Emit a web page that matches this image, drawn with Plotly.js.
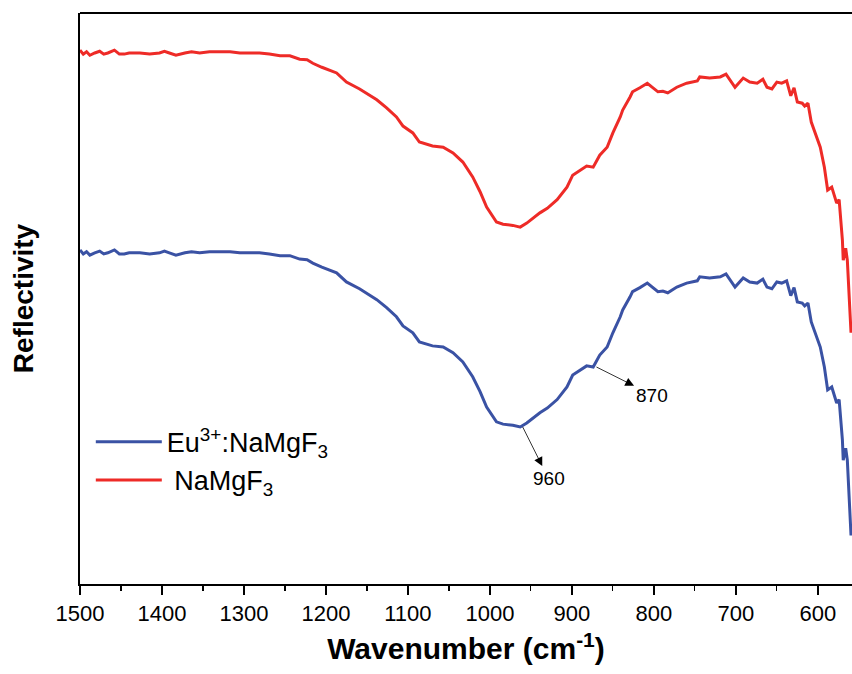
<!DOCTYPE html>
<html>
<head>
<meta charset="utf-8">
<script src="https://cdn.plot.ly/plotly-3.0.1.min.js"></script>
<style>html,body{margin:0;padding:0;background:#fff;}#chart{width:852px;height:674px;}</style>
</head>
<body>
<div id="chart"></div>
<script>
// Wavenumber (cm^-1)
const wavenumber = [1500,1496,1492,1488,1482,1476,1471,1466,1458,1452,1446,1440,1427,1415,1403,1397,1391,1383,1372,1364,1354,1342,1330,1317,1305,1293,1281,1269,1256,1244,1232,1223,1216,1205,1199,1187,1175,1159,1138,1126,1114,1106,1094,1086,1070,1057,1045,1033,1021,1012,1004,992,984,972,963,955,939,930,918,906,899,890,882,874,866,857,850,841,838,829,826,817,808,795,789,783,772,760,747,744,732,719,712,701,691,683,674,667,662,656,650,644,638,633,629,625,619,616,612,608,601,597,592,588,583,579,577,574,570,569,566,564,562,559.5];
// Reflectivity (a.u., offset) – NaMgF3
const reflNaMgF3 = [93.5,92.8,93.2,92.6,93.0,93.3,92.8,93.0,93.5,92.8,92.8,93.0,93.0,92.8,93.0,93.3,93.0,92.6,93.0,93.2,93.0,93.2,93.2,93.2,93.0,93.0,93.0,92.8,92.5,92.5,91.9,91.8,91.2,90.5,90.2,89.5,87.9,86.7,84.8,83.4,81.8,80.2,79.0,77.4,76.7,76.5,75.5,73.9,71.3,68.7,66.0,63.4,63.0,62.8,62.5,63.2,65.0,65.8,67.3,69.5,71.6,72.5,73.2,73.0,75.1,76.5,79.0,81.8,83.0,85.3,86.2,86.9,87.7,86.2,86.3,86.0,87.0,87.7,88.1,88.8,88.6,88.8,89.3,87.0,88.6,87.9,87.7,88.4,87.0,86.7,87.9,87.7,88.1,85.5,86.9,84.4,84.2,83.7,84.2,80.9,78.3,76.5,73.0,69.0,69.5,67.3,66.7,67.3,60.2,56.7,58.8,56.7,49.7,44.0];
// Reflectivity (a.u., offset) – Eu3+:NaMgF3
const reflEuNaMgF3 = [58.5,57.8,58.2,57.6,58.0,58.3,57.8,58.0,58.5,57.8,57.8,58.0,58.0,57.8,58.0,58.3,58.0,57.6,58.0,58.2,58.0,58.2,58.2,58.2,58.0,58.0,58.0,57.8,57.5,57.5,56.9,56.8,56.2,55.5,55.2,54.5,52.9,51.7,49.8,48.4,46.8,45.2,44.0,42.4,41.7,41.5,40.5,38.9,36.3,33.7,31.0,28.4,28.0,27.8,27.5,28.2,30.0,30.8,32.3,34.5,36.6,37.5,38.2,38.0,40.1,41.5,44.0,46.8,48.0,50.3,51.2,51.9,52.7,51.2,51.3,51.0,52.0,52.7,53.1,53.8,53.6,53.8,54.3,52.0,53.6,52.9,52.7,53.4,52.0,51.7,52.9,52.7,53.1,50.5,51.9,49.4,49.2,48.7,49.2,45.9,43.3,41.5,38.0,34.0,34.5,32.3,31.7,32.3,25.2,21.7,23.8,21.7,14.7,8.5];
// Marked band positions
const bandPositions = [960, 870];
const bandLabels = ['960', '870'];

const font = 'Liberation Sans, Arial, sans-serif';

function nearestY(arr, xs, target) {
  let best = 0, bd = Infinity;
  xs.forEach((v, i) => { const d = Math.abs(v - target); if (d < bd) { bd = d; best = i; } });
  return arr[best];
}

const traces = [
  { x: wavenumber, y: reflEuNaMgF3, type: 'scatter', mode: 'lines',
    name: 'Eu<sup>3+</sup>:NaMgF<sub>3</sub>', line: { color: '#3a52a4', width: 3 } },
  { x: wavenumber, y: reflNaMgF3, type: 'scatter', mode: 'lines',
    name: ' NaMgF<sub>3</sub>', line: { color: '#ee2b27', width: 3 } }
];

const annOffsets = [[26, 52], [56, 28]];
const annotations = bandPositions.map((b, i) => ({
  x: b, y: nearestY(reflEuNaMgF3, wavenumber, b), xref: 'x', yref: 'y',
  text: bandLabels[i], showarrow: true, arrowside: 'start',
  arrowhead: 2, startarrowhead: 2, arrowsize: 2.2, startarrowsize: 2.2,
  arrowwidth: 0.8, arrowcolor: '#000',
  ax: annOffsets[i][0], ay: annOffsets[i][1], standoff: 0, startstandoff: 1,
  font: { family: font, size: 19, color: '#000' }
}));

const layout = {
  width: 852, height: 674,
  margin: { l: 80, r: 0, t: 13, b: 90 },
  paper_bgcolor: '#fff', plot_bgcolor: '#fff',
  font: { family: font, color: '#000' },
  showlegend: true,
  legend: { x: 0.014, y: 0.215, xanchor: 'left', yanchor: 'middle', bgcolor: 'rgba(0,0,0,0)',
    font: { family: font, size: 27, color: '#000' }, itemwidth: 66, tracegroupgap: 0 },
  xaxis: {
    range: [1500, 558.3], autorange: false,
    showgrid: false, zeroline: false,
    showline: true, linecolor: '#000', linewidth: 2, mirror: false,
    ticks: 'outside', ticklen: 9, tickwidth: 1.5, tickcolor: '#000', dtick: 100, tick0: 0,
    tickfont: { family: font, size: 22, color: '#000' },
    minor: { dtick: 50, ticks: 'outside', ticklen: 5, tickwidth: 1.2, tickcolor: '#000', showgrid: false },
    title: { text: '<b>Wavenumber (cm<sup>-1</sup>)</b>', font: { family: font, size: 30, color: '#000' }, standoff: 13 }
  },
  yaxis: {
    range: [0, 100], autorange: false,
    showgrid: false, zeroline: false, showticklabels: false, ticks: '',
    showline: true, linecolor: '#000', linewidth: 2,
    title: { text: '<b>Reflectivity</b>', font: { family: font, size: 28, color: '#000' }, standoff: 36 }
  },
  shapes: [
    { type: 'line', xref: 'paper', yref: 'paper', x0: 0, x1: 1, y0: 1, y1: 1, line: { color: '#000', width: 2 } }
  ],
  annotations: annotations
};

Plotly.newPlot('chart', traces, layout, { displayModeBar: false, staticPlot: true });
</script>
</body>
</html>
